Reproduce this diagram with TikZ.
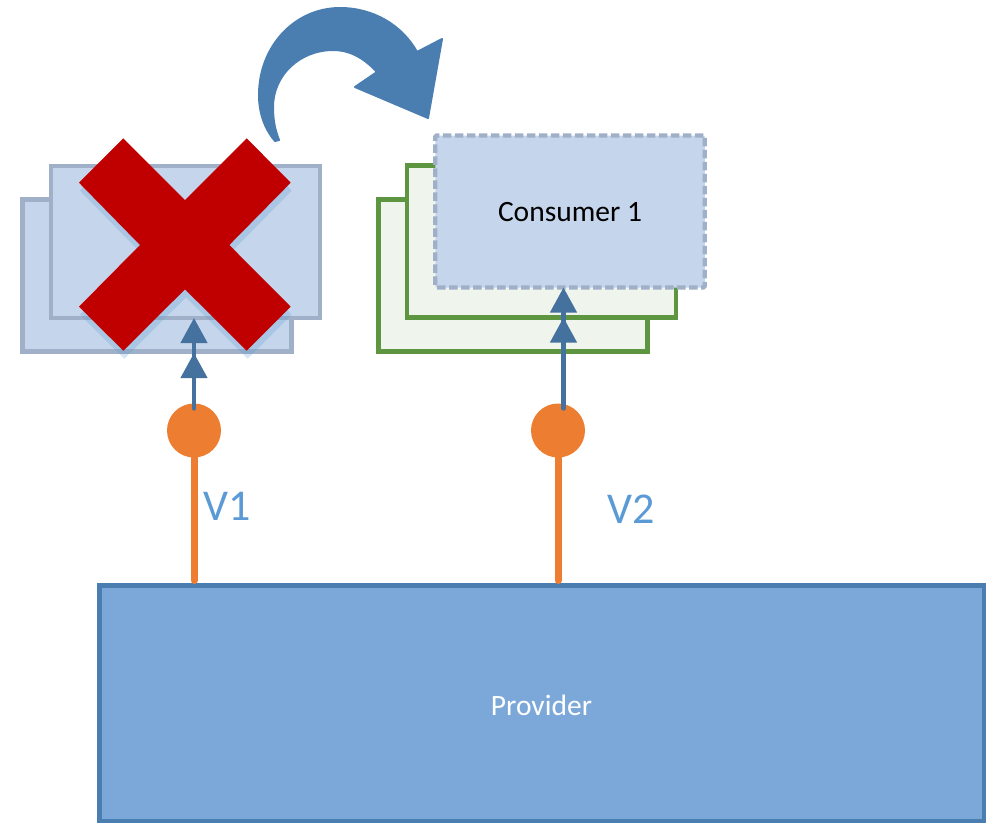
\documentclass[tikz,border=0pt]{standalone}
\usepackage{fontspec}
\setmainfont{Carlito}
\usetikzlibrary{arrows.meta}
\definecolor{boxfill}{HTML}{C5D5EB}
\definecolor{boxline}{HTML}{9FB0C8}
\definecolor{greenline}{HTML}{5E9540}
\definecolor{greenfill}{HTML}{EFF4EC}
\definecolor{provfill}{HTML}{7CA8D9}
\definecolor{provline}{HTML}{4A7EB0}
\definecolor{arrowblue}{HTML}{44719E}
\definecolor{orangec}{HTML}{ED7D31}
\definecolor{labelblue}{HTML}{5B9BD5}
\definecolor{crossred}{HTML}{C00000}
\tikzset{
  x=1pt,y=-1pt,
  card/.style={rectangle,inner sep=0pt,outer sep=0pt,minimum width=269pt,minimum height=152pt,line width=4.4pt},
  oldcard/.style={card,draw=boxline,fill=boxfill},
  newcard/.style={card,draw=greenline,fill=greenfill},
  livecard/.style={card,draw=boxline,fill=boxfill,rounded corners=1.5pt,dash pattern=on 8.5pt off 3.5pt},
  provider/.style={rectangle,inner sep=0pt,outer sep=0pt,minimum width=884.5pt,minimum height=235.5pt,line width=4.5pt,draw=provline,fill=provfill},
  port/.style={circle,inner sep=0pt,outer sep=0pt,minimum size=54pt,fill=orangec},
  stem/.style={line width=7pt,draw=orangec,line cap=round,shorten >=5pt},
  feed/.style={line width=4.4pt,draw=arrowblue,line cap=round,
    -{Triangle[length=25pt,width=26pt,sep=#1]Triangle[length=25pt,width=26pt]}},
  version/.style={font=\fontsize{44pt}{44pt}\selectfont,text=labelblue,inner sep=0pt},
  caption/.style={font=\fontsize{29.5pt}{30pt}\selectfont,inner sep=0pt},
}
\newcommand{\xshape}{(123.3,138.3) -- (185,200) -- (246.7,138.3) -- (290.7,182.7) -- (229.3,245) -- (290.7,306.7) -- (246.7,350.7) -- (185,289.3) -- (123.3,350.7) -- (79,306.7) -- (140,245) -- (79,182.7) -- cycle}
\begin{document}
\begin{tikzpicture}
\useasboundingbox (0,0) rectangle (994,823);
% old consumer stack
\node[oldcard] (oldback) at (157,275.5) {};
\node[oldcard] (oldfront) at (185.5,242) {};
% new consumer stack
\node[newcard] (newback) at (513,275.5) {};
\node[newcard] (newfront) at (541.5,241.5) {};
\node[livecard,minimum width=269.5pt] (live) at (570,211.5) {};
\node[caption,text=black] (livetext) at (570,212) {Consumer 1};
% removal mark
\fill[labelblue,opacity=.25,shift={(1,8)}] \xshape;
\fill[crossred] \xshape;
% swap arrow
\fill[draw=provline,line width=2pt,line join=round,fill=provline]
  (275,141) .. controls (264,128) and (259,112) .. (259,95)
  .. controls (259,46) and (295,8) .. (340,8)
  .. controls (373,8) and (402,25) .. (417,52)
  -- (442,39) -- (428,118) -- (355,87) -- (377,72)
  .. controls (364,58) and (350,50) .. (333,50)
  .. controls (300,50) and (273,75) .. (273,107)
  .. controls (273,120) and (275,130) .. (279,140) -- cycle;
% provider and ports
\node[provider] (prov) at (541.75,703.25) {};
\node[caption,text=white] (provtext) at (541.5,705) {Provider};
\node[port] (p1) at (194,430.5) {};
\node[port] (p2) at (558,430.5) {};
\draw[stem] (p1.south) -- (p1.south |- prov.north);
\draw[stem] (p2.south) -- (p2.south |- prov.north);
\coordinate (f1) at ([yshift=-5pt]p1.north);
\coordinate (f2) at ([xshift=5.5pt,yshift=-5pt]p2.north);
\draw[feed=10pt] (f1) -- (f1 |- oldfront.south);
\draw[feed=5pt] (f2) -- (f2 |- live.south);
\node[version] (v1) at (227,506) {V1};
\node[version] (v2) at (631,509) {V2};
\end{tikzpicture}
\end{document}
